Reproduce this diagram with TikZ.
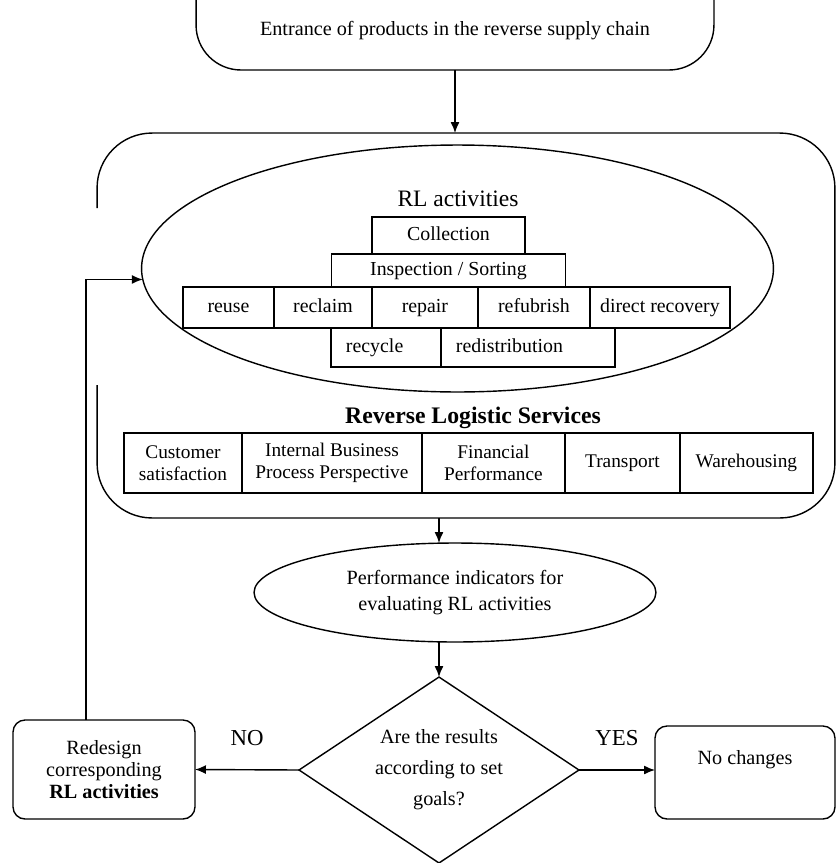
\documentclass[tikz,border=0pt]{standalone}
\usepackage{fontspec}
\setmainfont{Liberation Serif}
\usetikzlibrary{shapes.geometric,positioning,arrows.meta}
\tikzset{
  txt/.style = {align=center, inner sep=0pt, outer sep=0pt, font=\fontsize{11.5}{14}\selectfont},
  cell/.style = {txt, rectangle, draw=black, minimum height=0.82cm, text height=1.6ex, text depth=0.45ex, font=\fontsize{11.3}{13.5}\selectfont},
  svc/.style = {txt, rectangle, draw=black, minimum height=1.2cm, font=\fontsize{11}{12.5}\selectfont},
  oval/.style = {txt, ellipse, draw=black},
  rbox/.style = {txt, rectangle, draw=black, rounded corners=0.24cm},
  arr/.style = {-{Latex[length=2.2mm,width=1.8mm]}},
}

\begin{document}
\begin{tikzpicture}[x=0.02cm, y=-0.02cm, line width=0.8pt]
\useasboundingbox (0,0) rectangle (837,863);

% top of the chain, its upper edge runs off the page
\node [txt, draw=black, rounded corners=0.9cm, minimum width=10.36cm, text height=1.9cm, text depth=0.7cm, anchor=base] (entry) at (455,35) {Entrance of products in the reverse supply chain};

% outer frame, left side left open for the feedback line
\node [outer sep=0pt, inner sep=0pt, minimum width=14.76cm, minimum height=7.7cm] (cont) at (466,325.5) {};
\draw [rounded corners=1.1cm] (cont.west |- 0,208) -- (cont.north west) -- (cont.north east)
  -- (cont.south east) -- (cont.south west) -- (cont.west |- 0,385);
\draw [arr] (entry.south) -- (entry.south |- cont.north);

% RL activities
\node [oval, minimum width=12.64cm, minimum height=4.94cm] (rl) at (457.5,268.5) {};
\node [txt, font=\fontsize{13.4}{16}\selectfont] (rltitle) at (458,199) {RL activities};
\node [cell, minimum width=3.06cm, minimum height=0.74cm] (coll) at (448.5,235.5) {Collection};
\node [cell, minimum width=4.69cm, minimum height=0.66cm, below=0pt of coll] (insp) {Inspection / Sorting};
\node [cell, minimum width=1.82cm, anchor=north west] (reuse) at (183,287) {reuse};
\node [cell, minimum width=1.96cm, right=0pt of reuse] (reclaim) {reclaim};
\node [cell, minimum width=2.12cm, right=0pt of reclaim] (repair) {repair};
\node [cell, minimum width=2.24cm, right=0pt of repair] (refurb) {refubrish};
\node [cell, minimum width=2.8cm, right=0pt of refurb] (direct) {direct recovery};
\node [cell, minimum height=0.78cm, text width=1.6cm, inner xsep=0.3cm, align=left, anchor=north west] (recycle) at (331,328) {recycle};
\node [cell, minimum height=0.78cm, text width=2.88cm, inner xsep=0.3cm, align=left, right=0pt of recycle] (redist) {redistribution};

% services
\node [txt, font=\bfseries\fontsize{13.5}{16}\selectfont] (rlsvc) at (473,418) {Reverse Logistic Services};
\node [svc, minimum width=2.36cm, anchor=north west] (cust) at (124,433) {Customer\\satisfaction};
\node [svc, minimum width=3.6cm, right=0pt of cust] (ibp) {Internal Business\\Process Perspective};
\node [svc, minimum width=2.86cm, right=0pt of ibp] (fin) {Financial\\Performance};
\node [svc, minimum width=2.3cm, right=0pt of fin] (transp) {Transport};
\node [svc, minimum width=2.66cm, right=0pt of transp] (wareh) {Warehousing};

% evaluation
\node [oval, minimum width=8.04cm, minimum height=1.98cm, font=\fontsize{11.5}{14.8}\selectfont] (perf) at (455,592.5) {Performance indicators for\\evaluating RL activities};
\node [txt, diamond, draw=black, aspect=1.5, minimum width=5.6cm, minimum height=3.72cm, font=\fontsize{11.5}{17.6}\selectfont] (dec) at (439,770) {Are the results\\according to set\\goals?};
\node [rbox, minimum width=3.64cm, minimum height=1.98cm, font=\fontsize{11.5}{12.5}\selectfont] (redesign) at (104,769.5) {Redesign\\corresponding\\\textbf{RL activities}};
\node [rbox, minimum width=3.6cm, minimum height=1.86cm, text depth=0.6cm] (nochg) at (745,772.5) {No changes};

\draw [arr] (cont.south -| dec.north) -- (perf.north -| dec.north);
\draw [arr] (perf.south -| dec.north) -- (dec.north);
\draw [arr] (dec.west) -- (redesign.east) node [midway, above=0.35cm, font=\fontsize{13}{15}\selectfont] {NO};
\draw [arr] (dec.east) -- (dec.east -| nochg.west) node [midway, above=0.35cm, font=\fontsize{13}{15}\selectfont] {YES};
\draw [arr] ([xshift=-0.36cm]redesign.north) |- (rl.182);
\end{tikzpicture}
\end{document}
